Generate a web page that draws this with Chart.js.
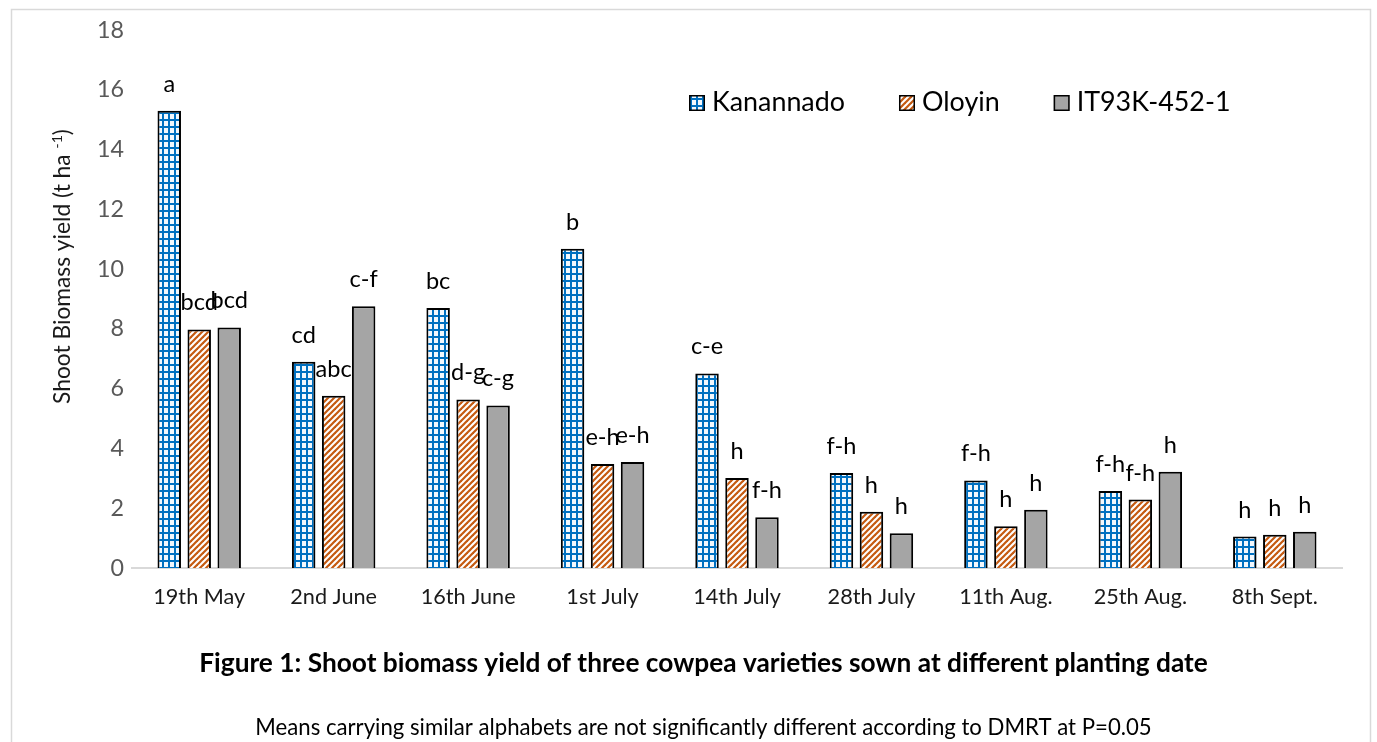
<!DOCTYPE html>
<html><head><meta charset="utf-8">
<script src="https://cdn.jsdelivr.net/npm/chart.js@4.4.0/dist/chart.umd.min.js"></script>
<style>html,body{margin:0;padding:0;background:#fff;}canvas{display:block;}</style>
</head><body>
<canvas id="c" width="1377" height="742"></canvas>
<script>
// ---- data ----
const categories = ['19th May','2nd June','16th June','1st July','14th July','28th July','11th Aug.','25th Aug.','8th Sept.'];
const seriesNames = ['Kanannado','Oloyin','IT93K-452-1'];
const kanannado = [15.3, 6.9, 8.7, 10.68, 6.51, 3.18, 2.93, 2.58, 1.05];
const oloyin    = [7.98, 5.76, 5.64, 3.48, 3.01, 1.88, 1.40, 2.29, 1.11];
const it93k     = [8.05, 8.76, 5.44, 3.55, 1.70, 1.16, 1.95, 3.22, 1.21];
const lettersK = ['a','cd','bc','b','c-e','f-h','f-h','f-h','h'];
const lettersO = ['bcd','abc','d-g','e-h','h','h','h','f-h','h'];
const lettersI = ['bcd','c-f','c-g','e-h','f-h','h','h','h','h'];
const yMin = 0, yMax = 18, yStep = 2;
const yTitleMain = 'Shoot Biomass yield (t ha ';
const yTitleSup = '-1';
const yTitleEnd = ')';
const titleText = 'Figure 1: Shoot biomass yield of three cowpea varieties sown at different planting date';
const footText = 'Means carrying similar alphabets are not significantly different according to DMRT at P=0.05';

// ---- fonts ----
const FONT = 'Lato, "Liberation Sans", sans-serif';
const mctx = document.createElement('canvas').getContext('2d');
function fit(text, weight, target){ mctx.font = weight + ' 100px ' + FONT; return 100*target/mctx.measureText(text).width; }
const catSize = fit('19th May','normal',92);
const tickSize = fit('18','normal',27);
const labelSize = (fit('c-e','normal',31) + fit('c-f','normal',27)) / 2 * 1.04;
const legendSize = fit('Kanannado','normal',133);
const titleSize = fit(titleText,'bold',1009);
const footSize = fit(footText,'normal',897);
const yTitleSize = (function(){
  mctx.font = 'normal 100px ' + FONT;
  const w = mctx.measureText(yTitleMain).width + mctx.measureText(yTitleEnd).width + 0.62*mctx.measureText(yTitleSup).width;
  return 100*275/w;
})();

// ---- patterns ----
function gridPattern(){
  const c = document.createElement('canvas'); c.width = 6; c.height = 7;
  const g = c.getContext('2d');
  g.fillStyle = '#F3F8FD'; g.fillRect(0,0,6,7);
  g.fillStyle = '#0070C0';
  g.fillRect(0,0,6,2); g.fillRect(0,0,2,7);
  return g.createPattern(c,'repeat');
}
function stripePattern(){
  const c = document.createElement('canvas'); c.width = 6; c.height = 6;
  const g = c.getContext('2d');
  g.fillStyle = '#FFFFFF'; g.fillRect(0,0,6,6);
  g.strokeStyle = '#C55A11'; g.lineWidth = 2.2;
  [[-3,3,3,-3],[0,6,6,0],[3,9,9,3]].forEach(function(l){ g.beginPath(); g.moveTo(l[0],l[1]); g.lineTo(l[2],l[3]); g.stroke(); });
  return g.createPattern(c,'repeat');
}
const fills = [gridPattern(), stripePattern(), '#A5A5A5'];
const letterSets = [lettersK, lettersO, lettersI];

// ---- plugins ----
const framePlugin = {
  id:'frame',
  beforeDraw(chart){
    const ctx = chart.ctx; ctx.save();
    ctx.fillStyle = '#fff'; ctx.fillRect(0,0,chart.width,chart.height);
    ctx.strokeStyle = '#D9D9D9'; ctx.lineWidth = 1.5;
    ctx.strokeRect(11.5, 9.5, 1359, 800);
    ctx.restore();
  }
};
const lettersPlugin = {
  id:'letters',
  afterDatasetsDraw(chart){
    const ctx = chart.ctx; ctx.save();
    ctx.font = 'normal ' + labelSize + 'px ' + FONT;
    ctx.fillStyle = '#000'; ctx.textAlign = 'center'; ctx.textBaseline = 'alphabetic';
    chart.data.datasets.forEach(function(ds, i){
      const meta = chart.getDatasetMeta(i);
      meta.data.forEach(function(el, j){
        ctx.fillText(letterSets[i][j], el.x, el.y - 19);
      });
    });
    ctx.restore();
  }
};
const legendPlugin = {
  id:'customLegend',
  afterDraw(chart){
    const ctx = chart.ctx; ctx.save();
    ctx.font = 'normal ' + legendSize + 'px ' + FONT;
    ctx.textBaseline = 'alphabetic'; ctx.textAlign = 'left';
    let x = 689; const base = 111, box = 16;
    chart.data.datasets.forEach(function(ds){
      ctx.fillStyle = ds.backgroundColor;
      ctx.fillRect(x, base-box, box, box);
      ctx.strokeStyle = '#000'; ctx.lineWidth = 1.5;
      ctx.strokeRect(x+0.75, base-box+0.75, box-1.5, box-1.5);
      ctx.fillStyle = '#000';
      const tx = x + box + 7;
      ctx.fillText(ds.label, tx, base);
      x = tx + ctx.measureText(ds.label).width + 54;
    });
    ctx.restore();
  }
};
const textPlugin = {
  id:'texts',
  afterDraw(chart){
    const ctx = chart.ctx; ctx.save();
    // y-axis title
    ctx.fillStyle = '#1a1a1a'; ctx.textBaseline = 'alphabetic'; ctx.textAlign = 'left';
    ctx.font = 'normal ' + yTitleSize + 'px ' + FONT;
    const wMain = ctx.measureText(yTitleMain).width, wEnd = ctx.measureText(yTitleEnd).width;
    ctx.font = 'normal ' + (yTitleSize*0.62) + 'px ' + FONT;
    const wSup = ctx.measureText(yTitleSup).width;
    const total = wMain + wSup + wEnd;
    ctx.translate(70, 266.5 + total/2);
    ctx.rotate(-Math.PI/2);
    ctx.font = 'normal ' + yTitleSize + 'px ' + FONT;
    ctx.fillText(yTitleMain, 0, 0);
    ctx.font = 'normal ' + (yTitleSize*0.62) + 'px ' + FONT;
    ctx.fillText(yTitleSup, wMain, -yTitleSize*0.36);
    ctx.font = 'normal ' + yTitleSize + 'px ' + FONT;
    ctx.fillText(yTitleEnd, wMain + wSup, 0);
    ctx.setTransform(1,0,0,1,0,0);
    // title and footnote
    ctx.textAlign = 'center'; ctx.fillStyle = '#000';
    ctx.font = 'bold ' + titleSize + 'px ' + FONT;
    ctx.fillText(titleText, 703.5, 672);
    ctx.font = 'normal ' + footSize + 'px ' + FONT;
    ctx.fillText(footText, 703.5, 735);
    ctx.restore();
  }
};

const datasets = [kanannado, oloyin, it93k].map(function(vals, i){
  return { label: seriesNames[i], data: vals, backgroundColor: fills[i], borderColor:'#000', borderWidth:2 };
});

new Chart(document.getElementById('c'), {
  type:'bar',
  data:{ labels: categories, datasets: datasets },
  options:{
    responsive:false, animation:false,
    layout:{ padding:{ left:0, right:1377-1342, top:30, bottom:0 } },
    datasets:{ bar:{ categoryPercentage:0.669, barPercentage:0.783 } },
    plugins:{ legend:{ display:false }, tooltip:{ enabled:false }, title:{display:false} },
    scales:{
      x:{
        grid:{ display:false, drawTicks:false },
        border:{ color:'#D9D9D9', width:2 },
        ticks:{ color:'#1a1a1a', font:{ family:FONT, size:catSize }, padding:16, maxRotation:0, autoSkip:false },
        afterFit(s){ s.height = 742 - 568; }
      },
      y:{
        min:yMin, max:yMax,
        grid:{ display:false, drawTicks:false },
        border:{ display:false },
        ticks:{ stepSize:yStep, color:'#595959', font:{ family:FONT, size:tickSize }, padding:8 },
        afterFit(s){ s.width = 132; }
      }
    }
  },
  plugins:[framePlugin, lettersPlugin, legendPlugin, textPlugin]
});
</script>
</body></html>
